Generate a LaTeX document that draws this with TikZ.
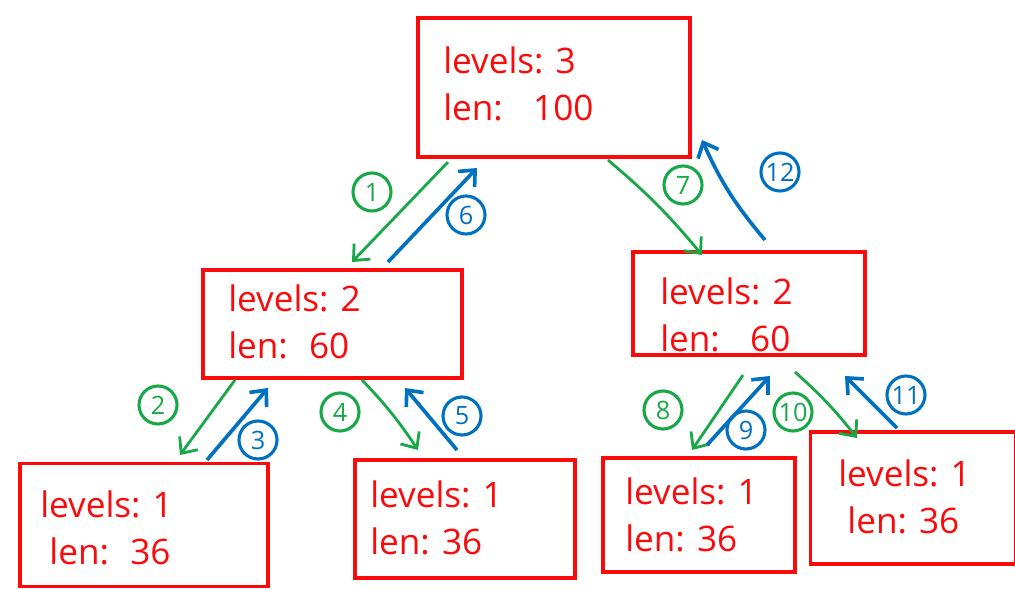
\documentclass[tikz,border=0pt]{standalone}
\usepackage{fontspec}
\setmainfont{Open Sans}
\usetikzlibrary{arrows.meta}
\definecolor{hred}{RGB}{250,10,10}
\definecolor{hgreen}{RGB}{24,168,72}
\definecolor{hblue}{RGB}{0,112,192}
\tikzset{
  box/.style={draw=hred, line width=2.2pt, minimum width=#1},
  txt/.style={text=hred, font=\fontsize{25}{33}\selectfont, align=left, anchor=west, inner sep=0pt},
  garr/.style={draw=hgreen, line width=2pt, -{Straight Barb[length=9pt,width=16pt,line width=2pt]}},
  barr/.style={draw=hblue, line width=2.6pt, -{Straight Barb[length=9pt,width=16pt,line width=2.6pt]}},
  gnum/.style={circle, draw=hgreen, text=hgreen, line width=2.2pt, minimum size=0.95cm, inner sep=0pt, font=\fontsize{18}{18}\selectfont},
  bnum/.style={circle, draw=hblue, text=hblue, line width=2.2pt, minimum size=0.95cm, inner sep=0pt, font=\fontsize{18}{18}\selectfont},
}
\begin{document}
\begin{tikzpicture}[x=0.025cm,y=-0.025cm]
\useasboundingbox (0,0) rectangle (1015,590);
% boxes
\node[box=6.8cm, minimum height=3.475cm] (root) at (554,87.5) {};
\node[box=6.475cm, minimum height=2.7cm] (ml) at (332.5,324) {};
\node[box=5.8cm, minimum height=2.575cm] (mr) at (749,303.5) {};
\node[box=6.2cm, minimum height=3.075cm] (l1) at (144,525) {};
\node[box=5.5cm, minimum height=2.95cm] (l2) at (465,519) {};
\node[box=4.8cm, minimum height=2.85cm] (l3) at (699,515) {};
\node[box=5.125cm, minimum height=3.3cm] (l4) at (913,498) {};
% texts
\node[txt] (t0) at (443,84) {levels: 3\\len: \ \ 100};
\node[txt] (t1) at (228,322) {levels: 2\\ len: \ 60};
\node[txt] (t2) at (660,315) {levels: 2\\len: \ \ 60};
\node[txt] (t3) at (40,528) {levels: 1\\ \ len: \ 36};
\node[txt] (t4) at (370,518) {levels: 1\\len: 36};
\node[txt] (t5) at (625,515) {levels: 1\\len: 36};
\node[txt] (t6) at (838,497) {levels: 1\\ \ len: 36};
% arrow end points
\coordinate (a1s) at (448,162); \coordinate (a1e) at (352,262);
\coordinate (a6s) at (388,262); \coordinate (a6e) at (477,168);
\coordinate (a7s) at (608,160); \coordinate (a7e) at (702,255);
\coordinate (a12s) at (765,240); \coordinate (a12e) at (702,140);
\coordinate (a2s) at (235,380); \coordinate (a2e) at (180,455);
\coordinate (a3s) at (207,460); \coordinate (a3e) at (268,388);
\coordinate (a4s) at (362,380); \coordinate (a4e) at (418,450);
\coordinate (a5s) at (457,450); \coordinate (a5e) at (405,388);
\coordinate (a8s) at (743,375); \coordinate (a8e) at (692,450);
\coordinate (a9s) at (707,445); \coordinate (a9e) at (770,376);
\coordinate (a10s) at (795,372); \coordinate (a10e) at (857,438);
\coordinate (a11s) at (897,428); \coordinate (a11e) at (845,376);
% arrows
\draw[garr] (a1s) -- (a1e);
\draw[barr] (a6s) -- (a6e);
\draw[garr] (a7s) to[bend left=5] (a7e);
\draw[barr] (a12s) to[bend left=8] (a12e);
\draw[garr] (a2s) -- (a2e);
\draw[barr] (a3s) -- (a3e);
\draw[garr] (a4s) to[bend left=5] (a4e);
\draw[barr] (a5s) -- (a5e);
\draw[garr] (a8s) -- (a8e);
\draw[barr] (a9s) -- (a9e);
\draw[garr] (a10s) to[bend left=5] (a10e);
\draw[barr] (a11s) -- (a11e);
% numbers
\node[gnum] (n1) at (372,192) {1};
\node[bnum] (n6) at (466,215) {6};
\node[gnum] (n7) at (683,185) {7};
\node[bnum] (n12) at (780,172) {12};
\node[gnum] (n2) at (158,405) {2};
\node[bnum] (n3) at (258,440) {3};
\node[gnum] (n4) at (340,412) {4};
\node[bnum] (n5) at (462,416) {5};
\node[gnum] (n8) at (663,410) {8};
\node[bnum] (n9) at (746,430) {9};
\node[gnum] (n10) at (793,412) {10};
\node[bnum] (n11) at (906,395) {11};
\end{tikzpicture}
\end{document}
